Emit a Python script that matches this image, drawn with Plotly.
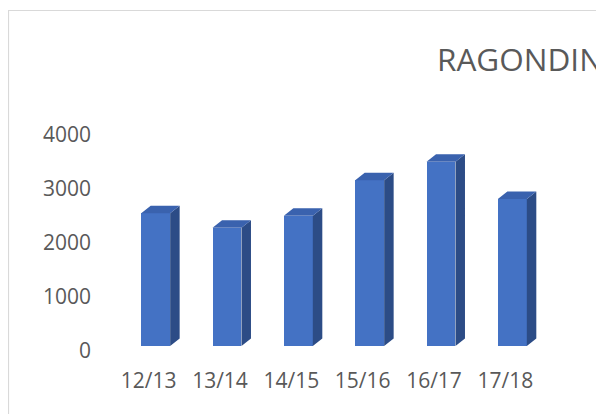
import plotly.graph_objects as go

categories = ["12/13", "13/14", "14/15", "15/16", "16/17", "17/18"]
values = [2460, 2190, 2410, 3070, 3410, 2720]
y_ticks = [0, 1000, 2000, 3000, 4000]
title_text = "RAGONDIN"

FRONT = "#4472C4"
SIDE = "#2C4C86"
TOP = "#3A62AE"
TXT = "#595959"

# the page body has an 8px margin, so the figure is drawn at (8, 8)
W, H = 596, 406
L, R, T, B = 112, 56, 112, 68
plot_w = W - L - R
plot_h = H - T - B
x_range = [-0.5, len(categories) - 0.5]
y_max = plot_h / 54.0 * 1000
px_x = plot_w / (x_range[1] - x_range[0])
px_y = plot_h / y_max

bar_w = 0.406
ddx = 9.5 / px_x
ddy = 7.5 / px_y

xs = list(range(len(categories)))

side_x, side_y, top_x, top_y = [], [], [], []
for i, v in zip(xs, values):
    xl = i - bar_w / 2
    xr = i + bar_w / 2
    side_x += [xr, xr + ddx, xr + ddx, xr, xr, None]
    side_y += [0, ddy, v + ddy, v, 0, None]
    top_x += [xl, xl + ddx, xr + ddx, xr, xl, None]
    top_y += [v, v + ddy, v + ddy, v, v, None]

fig = go.Figure()
fig.add_trace(go.Bar(x=xs, y=values, width=bar_w, marker=dict(color=FRONT, line=dict(width=0)),
                     hoverinfo="skip", showlegend=False))
fig.add_trace(go.Scatter(x=side_x, y=side_y, fill="toself", fillcolor=SIDE, mode="lines",
                         line=dict(width=0, color=SIDE), hoverinfo="skip", showlegend=False))
fig.add_trace(go.Scatter(x=top_x, y=top_y, fill="toself", fillcolor=TOP, mode="lines",
                         line=dict(width=0, color=TOP), hoverinfo="skip", showlegend=False))

fig.update_layout(
    width=W, height=H,
    margin=dict(l=L, r=R, t=T, b=B, pad=0),
    paper_bgcolor="white", plot_bgcolor="white",
    font=dict(family="Open Sans", color=TXT, size=21),
    bargap=0,
    xaxis=dict(range=x_range, tickvals=xs, ticktext=categories, showgrid=False, zeroline=False,
               showline=False, ticks="", ticklabelshift=-7, ticklabelstandoff=20,
               tickfont=dict(size=21, color=TXT), fixedrange=True),
    yaxis=dict(range=[0, y_max], tickvals=y_ticks, showgrid=False, zeroline=False, showline=False,
               ticks="", ticklabelshift=5, ticklabelstandoff=28,
               tickfont=dict(size=21, color=TXT), fixedrange=True),
    annotations=[dict(text=title_text, xref="paper", yref="paper",
                      x=(427 - L) / plot_w, y=(H - B - 50.5) / plot_h,
                      xanchor="left", yanchor="middle", showarrow=False,
                      font=dict(family="Open Sans", size=31.5, color=TXT))],
    shapes=[dict(type="rect", xref="paper", yref="paper",
                 x0=(0.5 - L) / plot_w, x1=(W + 20 - L) / plot_w,
                 y0=(H - B - 2.5) / plot_h, y1=(H - B - (H + 20)) / plot_h,
                 line=dict(color="#D9D9D9", width=1.2), fillcolor="rgba(0,0,0,0)", layer="below")],
)

fig.write_html("out.html")
